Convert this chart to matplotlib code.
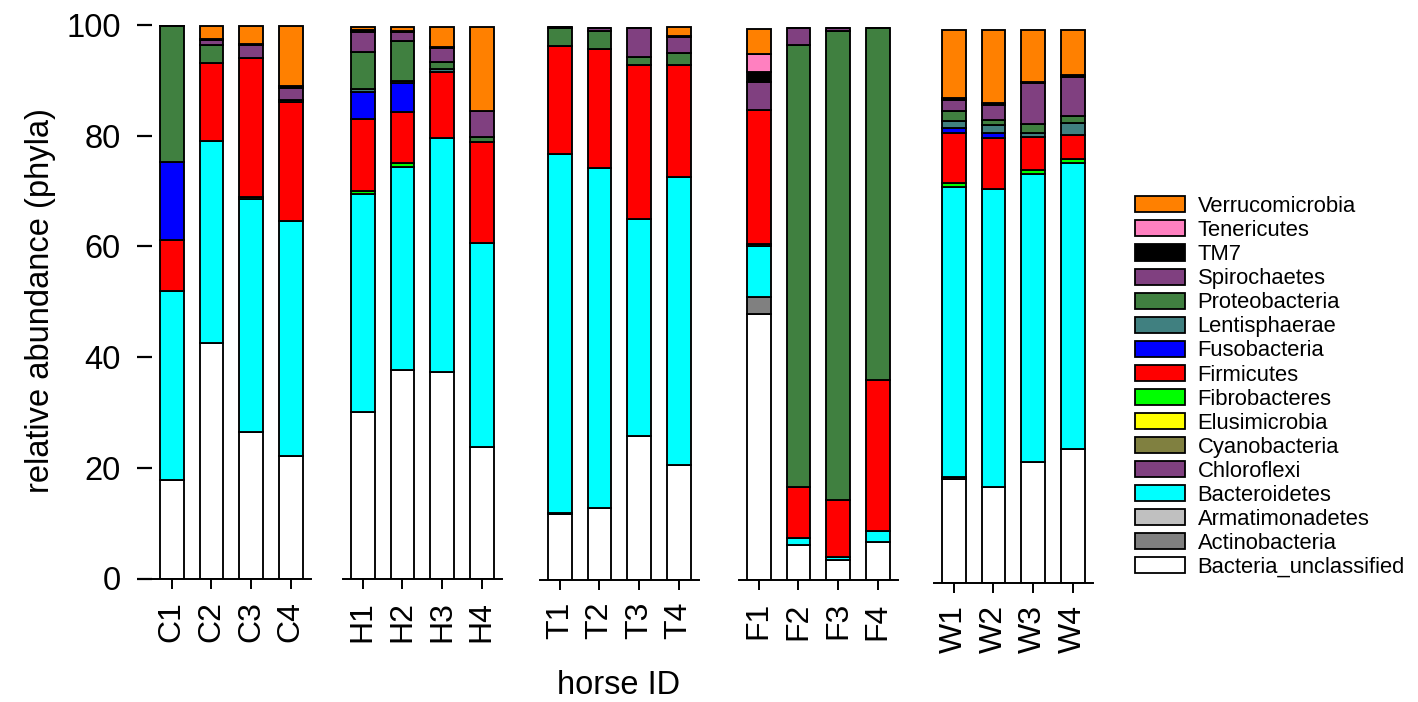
import numpy as np
import matplotlib.pyplot as plt
from matplotlib.patches import Patch

plt.rcParams['font.family'] = ['Liberation Sans', 'DejaVu Sans']

# horse IDs, grouped in five panels
samples = ['C1', 'C2', 'C3', 'C4', 'H1', 'H2', 'H3', 'H4', 'T1', 'T2', 'T3', 'T4',
           'F1', 'F2', 'F3', 'F4', 'W1', 'W2', 'W3', 'W4']

# relative abundance per phylum (%), same order as samples
Bacteria_unclassified = [17.8, 42.5, 26.4, 22.1, 30.0, 37.6, 37.3, 23.8, 11.9, 12.9, 26.0, 20.7,
                         48.0, 6.4, 3.7, 6.8, 18.7, 17.2, 21.7, 24.1]
Actinobacteria = [0, 0, 0, 0, 0, 0, 0, 0, 0.2, 0, 0, 0, 3.2, 0, 0, 0, 0.3, 0, 0, 0]
Armatimonadetes = [0] * 20
Bacteroidetes = [34.2, 36.5, 42.1, 42.4, 39.5, 36.7, 42.2, 36.8, 64.7, 61.4, 39.1, 52.1,
                 9.2, 1.2, 0.5, 2.1, 52.4, 53.9, 52.1, 51.7]
Chloroflexi = [0] * 20
Cyanobacteria = [0] * 20
Elusimicrobia = [0] * 20
Fibrobacteres = [0, 0, 0.4, 0, 0.5, 0.7, 0, 0, 0, 0, 0, 0, 0.3, 0, 0, 0, 0.7, 0, 0.8, 0.7]
Firmicutes = [9.2, 14.1, 25.1, 21.5, 13.0, 9.2, 12.0, 18.2, 19.6, 21.5, 27.8, 20.2,
              24.3, 9.2, 10.3, 27.3, 9.2, 9.2, 5.9, 4.3]
Fusobacteria = [14.1, 0, 0, 0, 4.9, 5.3, 0, 0, 0, 0, 0, 0, 0, 0, 0, 0, 0.9, 0.9, 0, 0]
Lentisphaerae = [0, 0, 0, 0, 0.5, 0.3, 0.5, 0, 0, 0, 0, 0, 0, 0, 0, 0, 1.2, 1.5, 0.7, 2.2]
Proteobacteria = [24.5, 3.3, 0, 0.5, 6.7, 7.3, 1.3, 0.9, 3.2, 3.3, 1.5, 2.2,
                  0, 79.8, 84.6, 63.5, 1.8, 0.8, 1.6, 1.3]
Spirochaetes = [0.2, 0.8, 2.3, 2.2, 3.7, 1.6, 2.6, 4.8, 0.2, 0.5, 5.3, 2.9,
                5.0, 3.1, 0.6, 0, 2.0, 2.8, 7.4, 7.0]
TM7 = [0, 0.2, 0.2, 0.3, 0.3, 0.3, 0.2, 0, 0, 0.1, 0, 0.1, 1.7, 0, 0, 0, 0.3, 0.4, 0.3, 0.4]
Tenericutes = [0, 0, 0, 0, 0, 0, 0, 0, 0, 0, 0, 0, 3.4, 0, 0, 0, 0, 0, 0, 0]
Verrucomicrobia = [0, 2.4, 3.3, 10.8, 0.6, 0.7, 3.6, 15.2, 0, 0, 0, 1.6,
                   4.5, 0, 0, 0, 12.4, 13.2, 9.4, 8.2]

# stacking order, bottom to top
phyla = [
    ('Bacteria_unclassified', Bacteria_unclassified, '#FFFFFF'),
    ('Actinobacteria', Actinobacteria, '#808080'),
    ('Armatimonadetes', Armatimonadetes, '#C0C0C0'),
    ('Bacteroidetes', Bacteroidetes, '#00FFFF'),
    ('Chloroflexi', Chloroflexi, '#804080'),
    ('Cyanobacteria', Cyanobacteria, '#808040'),
    ('Elusimicrobia', Elusimicrobia, '#FFFF00'),
    ('Fibrobacteres', Fibrobacteres, '#00FF00'),
    ('Firmicutes', Firmicutes, '#FF0000'),
    ('Fusobacteria', Fusobacteria, '#0000FF'),
    ('Lentisphaerae', Lentisphaerae, '#408080'),
    ('Proteobacteria', Proteobacteria, '#408040'),
    ('Spirochaetes', Spirochaetes, '#804080'),
    ('TM7', TM7, '#000000'),
    ('Tenericutes', Tenericutes, '#FF80C0'),
    ('Verrucomicrobia', Verrucomicrobia, '#FF8000'),
]

W, H = 1418, 702
fig = plt.figure(figsize=(W / 100, H / 100), dpi=100)

# panel placement in pixels (each panel is a separate plot in the original)
lefts_px = [152, 343, 540, 739, 934]
shift_px = [0, 0, 1, 1.5, 4]
panel_w = 158.5
panel_h = 553.5
base_px = 578.5

for g in range(5):
    ax = fig.add_axes([lefts_px[g] / W, (H - base_px - shift_px[g]) / H,
                       panel_w / W, panel_h / H])
    idx = list(range(4 * g, 4 * g + 4))
    x = np.arange(4)
    bottom = np.zeros(4)
    for name, vals, col in phyla:
        v = np.array([vals[i] for i in idx], dtype=float)
        ax.bar(x, v, width=0.6, bottom=bottom, color=col, edgecolor='black', linewidth=1.35)
        bottom += v
    ax.set_xlim(-0.5, 3.5)
    ax.set_ylim(0, 100)
    for s in ['top', 'right', 'left']:
        ax.spines[s].set_visible(False)
    ax.spines['bottom'].set_linewidth(1.4)
    ax.set_xticks(x)
    ax.set_xticklabels([samples[i] for i in idx])
    ax.tick_params(axis='x', length=7, width=1.4, pad=9, labelsize=23, labelrotation=90)
    if g == 0:
        ax.set_yticks([0, 20, 40, 60, 80, 100])
        ax.tick_params(axis='y', length=10.5, width=1.6, pad=12, labelsize=23.5)
    else:
        ax.set_yticks([])

fig.text(41 / W, 1 - 301 / H, 'relative abundance (phyla)', rotation=90,
         ha='center', va='center', fontsize=23.5)
fig.text(619 / W, 1 - 686 / H, 'horse ID', ha='center', va='center', fontsize=23.5)

handles = [Patch(facecolor=col, edgecolor='black', linewidth=1.3, label=name)
           for name, vals, col in phyla[::-1]]
fig.legend(handles=handles, loc='upper left', bbox_to_anchor=(1135 / W, 1 - 196 / H),
           frameon=False, fontsize=15.8, borderpad=0, labelspacing=0.14,
           handlelength=2.3, handleheight=0.75, handletextpad=0.55, borderaxespad=0)

plt.savefig('out.png', dpi=100)
